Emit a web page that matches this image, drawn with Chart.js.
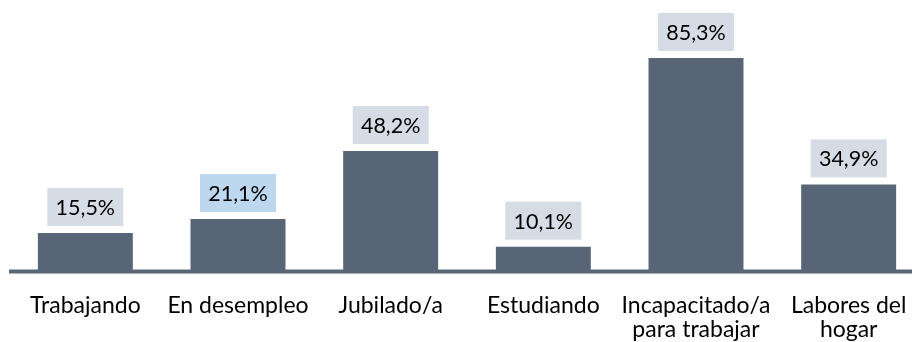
<!DOCTYPE html>
<html>
<head>
<meta charset="utf-8">
<script src="https://cdn.jsdelivr.net/npm/chart.js@4/dist/chart.umd.min.js"></script>
<style>
    html, body { margin: 0; padding: 0; background: #fff; overflow: hidden; }
    #wrap { width: 912px; height: 342px; overflow: hidden; }
</style>
</head>
<body>
<div id="wrap"><canvas id="myChart" width="925" height="342"></canvas></div>
<script>
const categories = [
    'Trabajando',
    'En desempleo',
    'Jubilado/a',
    'Estudiando',
    ['Incapacitado/a', 'para trabajar'],
    ['Labores del', 'hogar']
];
const percentages = [15.5, 21.1, 48.2, 10.1, 85.3, 34.9];
const highlightIndex = 1;

const barColor = '#586577';
const boxColor = '#d6dce5';
const boxHighlight = '#bdd7ee';

function formatPct(v) {
    return v.toFixed(1).replace('.', ',') + '%';
}

// boxed value labels above each bar, plus the base line
const boxLabels = {
    id: 'boxLabels',
    afterDatasetsDraw(chart) {
        const ctx = chart.ctx;
        const area = chart.chartArea;
        const y0 = chart.scales.y.getPixelForValue(0);

        ctx.save();
        ctx.fillStyle = '#596678';
        ctx.fillRect(area.left, y0 - 2.5, area.right - area.left, 4);

        const meta = chart.getDatasetMeta(0);
        ctx.font = '21.5px Lato';
        ctx.textAlign = 'center';
        ctx.textBaseline = 'middle';
        meta.data.forEach(function(bar, i) {
            const w = 76, h = 38;
            const top = bar.y - 7 - h;
            ctx.fillStyle = i === highlightIndex ? boxHighlight : boxColor;
            ctx.fillRect(bar.x - w / 2, top, w, h);
            ctx.fillStyle = '#000';
            ctx.fillText(formatPct(percentages[i]), bar.x, top + h / 2 + 1);
        });
        ctx.restore();
    }
};

const myChart = new Chart('myChart', {
    type: 'bar',
    data: {
        labels: categories,
        datasets: [{
            data: percentages,
            backgroundColor: barColor,
            borderWidth: 0,
            barPercentage: 0.622,
            categoryPercentage: 1
        }]
    },
    options: {
        responsive: false,
        animation: false,
        layout: { padding: { left: 9, right: 0, top: 21, bottom: 0 } },
        plugins: {
            legend: { display: false },
            tooltip: { enabled: false }
        },
        scales: {
            x: {
                grid: { display: false, drawTicks: false },
                border: { display: false },
                ticks: {
                    color: '#000',
                    padding: 22,
                    maxRotation: 0,
                    autoSkip: false,
                    font: { family: 'Lato', size: 23, lineHeight: 1.03 }
                },
                afterFit(scale) {
                    scale.height = 70;
                    scale.paddingLeft = 0;
                    scale.paddingRight = 0;
                }
            },
            y: {
                display: false,
                min: 0,
                max: 100
            }
        }
    },
    plugins: [boxLabels]
});
</script>
</body>
</html>
